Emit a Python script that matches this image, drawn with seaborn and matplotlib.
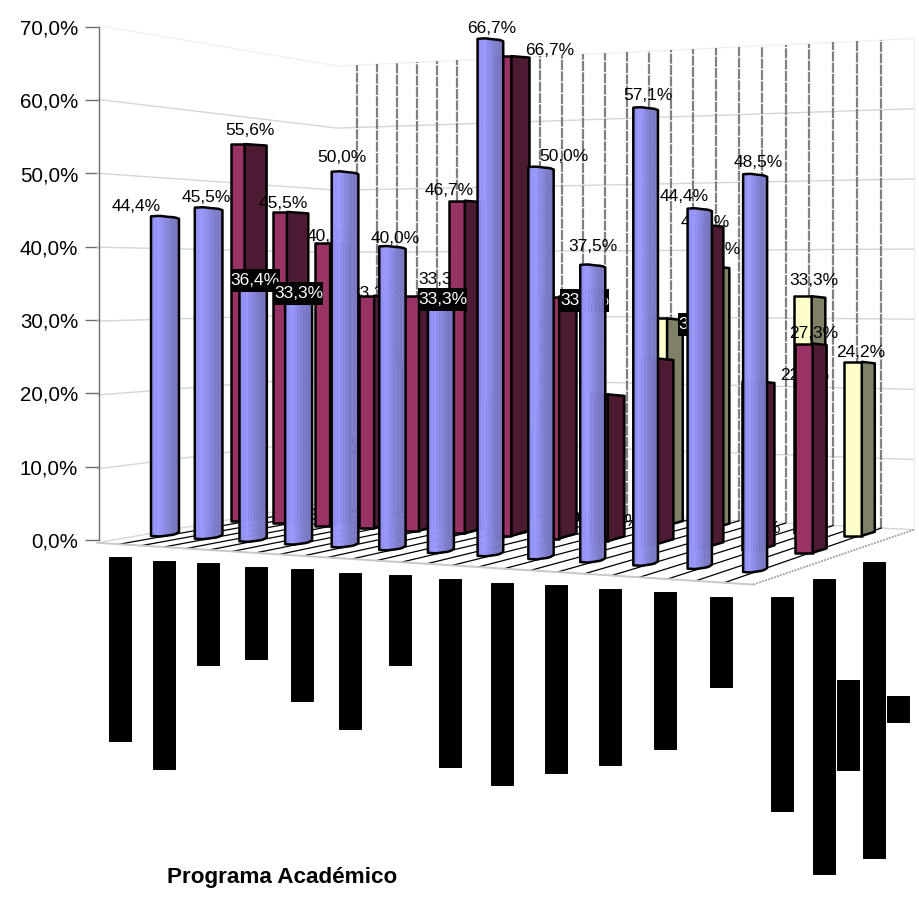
import numpy as np
import pandas as pd
import seaborn as sns
import matplotlib
matplotlib.use("Agg")
import matplotlib.pyplot as plt
from matplotlib.patches import Polygon, Rectangle

# Share of each programme per response group (percent)
blue_values = [44.4, 45.5, 36.4, 33.3, 50.0, 40.0, 33.3, 66.7, 50.0, 37.5, 57.1, 44.4, 48.5]
crimson_values = [55.6, 45.5, 40.9, 33.3, 33.3, 46.7, 66.7, 33.3, 20.0, 25.0, 42.9, 22.2, 27.3]
cream_values = [0.0, 9.1, 22.7, 33.3, 16.7, 13.3, 0.0, 0.0, 30.0, 37.5, 0.0, 33.3, 24.2]
level_ticks = [0, 10, 20, 30, 40, 50, 60, 70]
axis_title = "Programa Académico"

# Label placement relative to the top of each bar (pixels)
blue_dx = [-29, -2, 2, 0, -3, 3, 2, 1, 23, 0, 2, -16, 3]
blue_dy = [-10, -10, 7, -3, -14, -8, 2, -10, -11, -18, -12, -12, -12]
crimson_dx = [1, -7, -2, -2, 23, -17, 37, 25, 0, 0, -2, 46, 3]
crimson_dy = [-14, -8, -7, -2, 3, -10, -6, 4, 0, 0, -3, -6, -10]
cream_dx = [0, 0, 0, -3, 0, 0, 0, 0, 36, 3, 0, 4, 1]
cream_dy = [-2, -8, -8, -15, -8, -8, -2, -2, 6, -17, -2, -16, -9]
blue_boxed = {2, 3, 6}
crimson_boxed = {7}
cream_boxed = {8}
crimson_silent = {8, 9}
crimson_under_bar = {3}

# Blacked-out category names under the floor (pixels)
band_centers = [120, 164, 208, 256, 302, 350, 400, 450, 502, 556, 610, 665, 721, 782, 824, 848, 874, 898]
band_tops = [557, 561, 563, 567, 569, 573, 575, 579, 583, 585, 589, 592, 597, 597, 579, 680, 562, 696]
band_lengths = [184, 208, 102, 92, 132, 156, 90, 188, 202, 188, 176, 157, 90, 214, 295, 90, 296, 26]

PX = 7.33
ZERO_PX = 540.0
WIDTH, HEIGHT = 920, 899

# Perspective of the chart floor: t runs along the categories, v into the depth
G, H = -0.122, 0.124
A, B, C = 498.0, 198.0, 165.0
D, E, F = -33.8, 34.6, 536.0
K = 7.2
T_LEFT, T_RIGHT = -0.0417, 1.055
V_FRONT, V_BACK = -0.25, 1.25


def to_axis(py):
    return (ZERO_PX - np.asarray(py, dtype=float)) / PX


def project(t, v):
    w = 1 + G * t + H * v
    x = (A * t + B * v + C) / w
    base = to_axis((D * t + E * v + F) / w)
    return x, base, K / (w * PX)


sns.set_style("white")
plt.rcParams["font.family"] = ["Liberation Sans", "DejaVu Sans"]
series_colors = sns.color_palette(["#993366", "#4D1A33", "#FFFFCC", "#808066"])
blue_ramp = sns.blend_palette(["#8F8FF2", "#9999FF", "#8A8AE4", "#7C7CCB", "#7676C0"], 9)

fig = plt.figure(figsize=(WIDTH / 100, HEIGHT / 100), dpi=100)
ax = fig.add_axes([0, 0, 1, 1])

bands = pd.DataFrame({
    "center": band_centers,
    "length": np.array(band_lengths) / PX,
})
sns.barplot(
    data=bands, x="center", y="length", native_scale=True, color="black", saturation=1,
    width=22 / 24, errorbar=None, bottom=to_axis(np.array(band_tops) + np.array(band_lengths)),
    edgecolor="black", linewidth=0.7, ax=ax, zorder=2, legend=False,
)

ax.set_xlim(0, WIDTH)
ax.set_ylim(to_axis(HEIGHT), to_axis(0))
ax.set_xticks([])
ax.set_xlabel("")
ax.set_ylabel("")
for side in ["top", "right", "bottom"]:
    ax.spines[side].set_visible(False)
ax.spines["left"].set_position(("data", 99))
ax.spines["left"].set_bounds(0, 70)
ax.spines["left"].set_color("#6e6e6e")
ax.spines["left"].set_linewidth(1.0)
ax.set_yticks(level_ticks)
ax.set_yticklabels([f"{v:.1f}%".replace(".", ",") for v in level_ticks], fontsize=14.8, color="black")
ax.tick_params(axis="y", left=True, direction="out", length=10, width=1, color="#6e6e6e", pad=5)

# Side and back walls with their level lines
for level in level_ticks:
    pts = [project(T_LEFT, V_FRONT), project(T_LEFT, V_BACK), project(T_RIGHT, V_BACK)]
    ax.plot([p[0] for p in pts], [p[1] + level * p[2] for p in pts],
            color="#f1f1f1" if level == 70 else "#d6d6d6", lw=1.0, zorder=1)

# Dashed wall verticals and the floor grid lines
for step in range(25):
    t = step / 24
    x, base, k = project(t, V_BACK)
    ax.plot([x, x], [base, base + 70 * k], color="#808080", lw=1.6,
            linestyle=(0, (4.5, 0.6)), zorder=1.1)
    x0, b0, _ = project(t, V_FRONT)
    ax.plot([x0, x], [b0, base], color="black", lw=0.9, zorder=1.2)

xb, bb, kb = project(T_RIGHT, V_BACK)
ax.plot([xb, xb], [bb, bb + 70 * kb], color="#efefef", lw=1.0, zorder=1)

fa = project(T_LEFT, V_FRONT)
fb = project(1.0417, V_FRONT)
ax.plot([fa[0], fb[0]], [fa[1], fb[1]], color="#c8c8c8", lw=1.4, zorder=1.3)
ax.plot([fb[0], xb], [fb[1], bb], color="#a8a8a8", lw=1.4, linestyle=(0, (1, 0.6)), zorder=1.3)


def put_label(x, y_px_offset, top, value, order, boxed, hidden_below=False):
    text = f"{value:.1f}%".replace(".", ",")
    y = top - y_px_offset / PX
    z = order - 0.004 if hidden_below else order + 0.004
    if boxed:
        ax.add_patch(Rectangle((x - 24.5, y - 11.5 / PX), 49, 23 / PX, facecolor="black",
                               edgecolor="none", zorder=z))
    ax.text(x, y, text, ha="center", va="center", fontsize=12.5,
            color="white" if boxed else "black", zorder=z + 0.001)


def box_bar(i, value, v, front_color, side_color, base_z):
    t = i / 12
    x, base, k = project(t, v)
    top = base + value * k
    order = base_z + i * 0.01
    if value > 0:
        front = 14 + 4 * t
        side = 23 - 8 * t - 2 * v
        left = x - (front + side) / 2
        mid = left + front
        right = mid + side
        drop = 1.5 / PX
        rise = 0.3 * side / PX
        ax.add_patch(Polygon([(left, base), (mid, base), (mid, top), (left, top)], closed=True,
                             facecolor=front_color, edgecolor="black", lw=1.8,
                             joinstyle="round", zorder=order))
        ax.add_patch(Polygon([(mid, base), (right, base + rise), (right, top - drop), (mid, top)],
                             closed=True, facecolor=side_color, edgecolor="black", lw=1.8,
                             joinstyle="round", zorder=order))
    return x, top, order


# Back row
for i, value in enumerate(cream_values):
    x, top, order = box_bar(i, value, 1.0, series_colors[2], series_colors[3], 3)
    put_label(x + cream_dx[i], cream_dy[i], top, value, order, i in cream_boxed)

# Middle row
for i, value in enumerate(crimson_values):
    x, top, order = box_bar(i, value, 0.5, series_colors[0], series_colors[1], 4)
    if i not in crimson_silent:
        put_label(x + crimson_dx[i], crimson_dy[i], top, value, order, i in crimson_boxed,
                  hidden_below=i in crimson_under_bar)

# Front row, shaded like rounded columns
frac = np.linspace(0, 1, len(blue_ramp) + 1)
top_shape = np.interp(frac, [0, 0.3, 0.6, 0.85, 1], [0, -0.5, 0.5, 1, 2.5]) / PX
foot_shape = np.interp(frac, [0, 0.3, 0.6, 0.85, 1], [0, 0.5, -0.5, -1.5, -4]) / PX
for i, value in enumerate(blue_values):
    t = i / 12
    x, base, k = project(t, 0.0)
    top = base + value * k
    half = (28 - 4 * t) / 2
    edges = x - half + frac * 2 * half
    order = 5 + i * 0.01
    for j, shade in enumerate(blue_ramp):
        ax.add_patch(Polygon([(edges[j], base - foot_shape[j]), (edges[j + 1], base - foot_shape[j + 1]),
                              (edges[j + 1], top - top_shape[j + 1]), (edges[j], top - top_shape[j])],
                             closed=True, facecolor=shade, edgecolor=shade, lw=0.3, zorder=order))
    outline = list(zip(edges, base - foot_shape)) + list(zip(edges[::-1], (top - top_shape)[::-1]))
    ax.add_patch(Polygon(outline, closed=True, fill=False, edgecolor="black", lw=1.8,
                         joinstyle="round", zorder=order + 0.001))
    put_label(x + blue_dx[i], blue_dy[i], top, value, order, i in blue_boxed)

ax.text(282, to_axis(877), axis_title, ha="center", va="center", fontsize=16.2,
        fontweight="bold", color="black")

fig.savefig("out.png", dpi=100, facecolor="white")
